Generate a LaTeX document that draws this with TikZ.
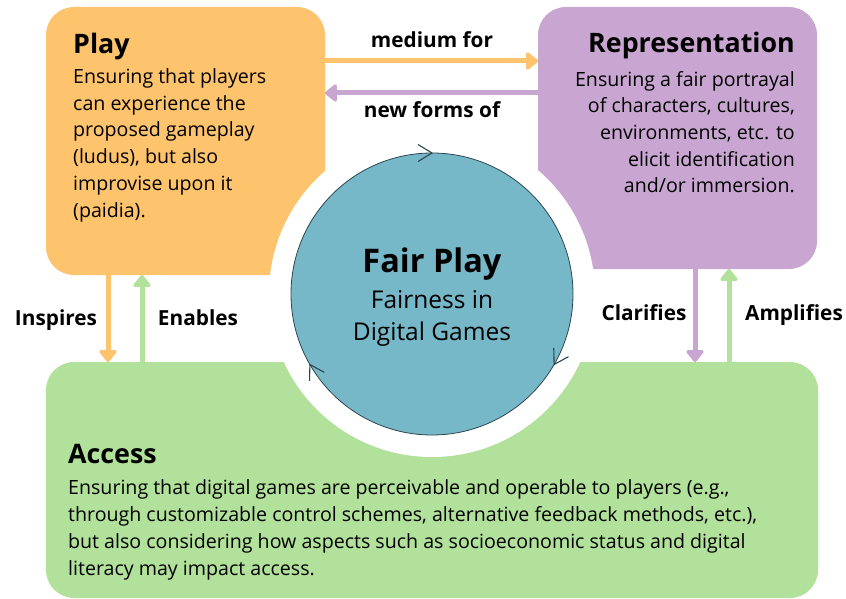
\documentclass[tikz,border=0pt]{standalone}
\usepackage{fontspec}
\setmainfont{Open Sans}
\usetikzlibrary{arrows.meta}
\definecolor{orangec}{HTML}{FEC36D}
\definecolor{purplec}{HTML}{C9A6D1}
\definecolor{greenc}{HTML}{B1E19B}
\definecolor{tealc}{HTML}{77B8C8}
\definecolor{darkc}{HTML}{2C4650}
\tikzset{
  box/.style={rectangle, rounded corners=28pt, inner sep=0pt, outer sep=0pt, anchor=north west},
  conn/.style={line width=5pt, -{Triangle[length=13pt,width=20pt,round]}},
  title/.style={inner sep=0pt, anchor=base west, font=\fontsize{26.8}{30}\selectfont\bfseries},
  body/.style={inner sep=0pt, anchor=base west, align=left, font=\fontsize{19.6}{26.7}\selectfont},
  lbl/.style={inner sep=0pt, anchor=base, font=\fontsize{20.8}{24}\selectfont\bfseries},
  chev/.style={draw=darkc, line width=1.1pt},
}
\begin{document}
\begin{tikzpicture}[x=1pt,y=-1pt]
\useasboundingbox (0,0) rectangle (846,599);
% boxes
\node[box, fill=orangec, minimum width=279pt, minimum height=268pt] (play) at (46,7) {};
\node[box, fill=purplec, minimum width=279pt, minimum height=262pt] (rep) at (538,7) {};
\node[box, fill=greenc, minimum width=772pt, minimum height=236pt] (access) at (46,362) {};
% gap and hub
\node[circle, fill=white, minimum size=326pt, inner sep=0pt] (gap) at (432,294) {};
\node[circle, fill=tealc, draw=darkc, line width=0.8pt, minimum size=282pt, inner sep=0pt] (hub) at (432,294) {};
% chevrons on the hub
\begin{scope}[shift={(hub.center)}, x=1pt, y=1pt]
  \foreach \a in {90,-30,210}{
    \begin{scope}[shift={(\a:141)}, rotate=\a-90]
      \draw[chev] (-14,8.5) -- (0,0) -- (-14,-8.5);
    \end{scope}
  }
\end{scope}
% connectors
\draw[conn, orangec] ([yshift=-54pt]play.north east) -- ([yshift=-54pt]rep.north west);
\draw[conn, purplec] ([yshift=-86pt]rep.north west) -- ([yshift=-86pt]play.north east);
\draw[conn, orangec] ([xshift=62pt]play.south west) -- ([xshift=62pt]access.north west);
\draw[conn, greenc] ([xshift=96pt]access.north west) -- ([xshift=96pt]play.south west);
\draw[conn, purplec] ([xshift=157pt]rep.south west) -- ([xshift=649pt]access.north west);
\draw[conn, greenc] ([xshift=683pt]access.north west) -- ([xshift=191pt]rep.south west);
% connector labels
\node[lbl] (lmed) at (432,48) {medium for};
\node[lbl] (lnew) at (432,118) {new forms of};
\node[lbl] (lins) at (56,325) {Inspires};
\node[lbl] (lena) at (198,325) {Enables};
\node[lbl] (lcla) at (644,320) {Clarifies};
\node[lbl] (lamp) at (794,320) {Amplifies};
% hub text (base anchor of multi-line nodes = last line)
\node[inner sep=0pt, anchor=base, font=\fontsize{32.5}{36}\selectfont\bfseries] (fp) at (432,272) {Fair Play};
\node[inner sep=0pt, anchor=base, align=center, font=\fontsize{24.5}{32}\selectfont] (fpsub) at (432,340) {Fairness in\\Digital Games};
% play text
\node[title] (tplay) at (73,54) {Play};
\node[body] (bplay) at (73,217) {Ensuring that players\\can experience the\\proposed gameplay\\(ludus), but also\\improvise upon it\\(paidia).};
% representation text
\node[title, anchor=base east] (trep) at (795,53) {Representation};
\node[body, anchor=base east, align=right] (brep) at (795,193) {Ensuring a fair portrayal\\of characters, cultures,\\environments, etc. to\\elicit identification\\and/or immersion.};
% access text
\node[title] (tacc) at (68,463) {Access};
\node[body] (bacc) at (68,575) {Ensuring that digital games are perceivable and operable to players (e.g.,\\through customizable control schemes, alternative feedback methods, etc.),\\but also considering how aspects such as socioeconomic status and digital\\literacy may impact access.};
\end{tikzpicture}
\end{document}
